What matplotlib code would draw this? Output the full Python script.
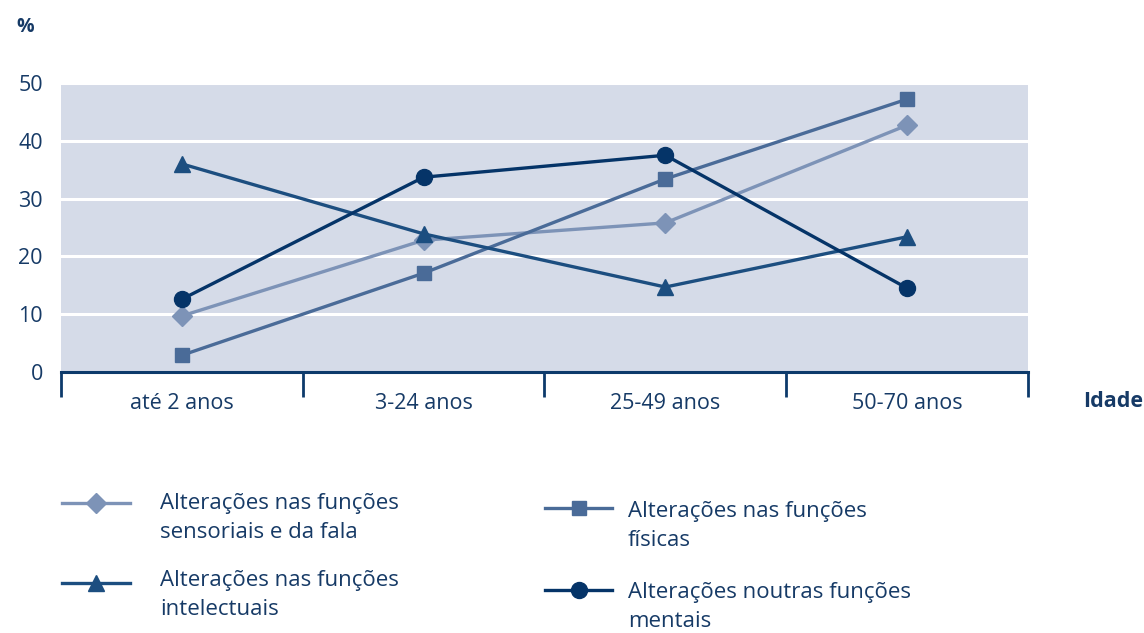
import matplotlib.pyplot as plt
from matplotlib.lines import Line2D
from matplotlib.ticker import FixedLocator

plt.rcParams['font.family'] = ['Open Sans', 'DejaVu Sans']

# ===== categorias (idade) =====
idades = ["até 2 anos", "3-24 anos", "25-49 anos", "50-70 anos"]

# ===== séries (%) =====
sensoriais = [9.7, 22.8, 25.8, 42.7]
fisicas = [2.9, 17.1, 33.4, 47.2]
intelectuais = [36.0, 23.9, 14.7, 23.4]
mentais = [12.6, 33.7, 37.5, 14.5]

labels = ["Alterações nas funções\nsensoriais e da fala",
          "Alterações nas funções\nintelectuais",
          "Alterações nas funções\nfísicas",
          "Alterações noutras funções\nmentais"]

txt = '#163a66'
navy = '#0d3a6b'

fig = plt.figure(figsize=(11.44, 6.33), dpi=100)
ax = fig.add_axes([0.0533, 0.4123, 0.8453, 0.4566])
ax.set_facecolor('#d5dbe8')

x = list(range(len(idades)))
l1, = ax.plot(x, sensoriais, color='#7d93b7', lw=2.4, marker='D', ms=10, zorder=3)
l3, = ax.plot(x, fisicas, color='#4a6b98', lw=2.4, marker='s', ms=10.5, zorder=3)
l2, = ax.plot(x, intelectuais, color='#1c4e80', lw=2.4, marker='^', ms=12, zorder=3)
l4, = ax.plot(x, mentais, color='#053468', lw=2.4, marker='o', ms=11.5, zorder=4)

ax.set_xlim(-0.5, 3.5)
ax.set_ylim(0, 50)
ax.set_yticks([0, 10, 20, 30, 40, 50])
ax.yaxis.grid(True, color='white', lw=2.2)
ax.set_axisbelow(True)

ax.set_xticks(x)
ax.set_xticklabels(idades)
ax.xaxis.set_minor_locator(FixedLocator([-0.5, 0.5, 1.5, 2.5, 3.5]))
ax.tick_params(axis='x', which='major', length=0, pad=15, labelsize=15.5, labelcolor=txt)
ax.tick_params(axis='x', which='minor', length=18, width=2, color=navy, direction='out')
ax.tick_params(axis='y', length=0, pad=13, labelsize=15.5, labelcolor=txt)

for s in ['top', 'right', 'left']:
    ax.spines[s].set_visible(False)
ax.spines['bottom'].set_color(navy)
ax.spines['bottom'].set_linewidth(2.2)

fig.text(0.022, 0.958, "%", fontsize=14, fontweight='bold', color=txt, ha='center', va='center')
fig.text(0.999, 0.366, "Idade", fontsize=15.5, fontweight='bold', color=txt, ha='right', va='center')

# ===== legenda (posições em píxeis da figura) =====
W, H = 1144, 633
entradas = [
    (l1, labels[0], 62, 130, 503, 160, 518),
    (l2, labels[1], 62, 130, 583, 160, 595),
    (l3, labels[2], 545, 612, 508, 628, 526),
    (l4, labels[3], 545, 612, 590, 628, 607),
]
for ln, lab, xa, xb, yl, xt, yt in entradas:
    fig.add_artist(Line2D([xa / W, xb / W], [1 - yl / H, 1 - yl / H],
                          color=ln.get_color(), lw=ln.get_linewidth()))
    fig.add_artist(Line2D([(xa + xb) / 2 / W], [1 - yl / H], color=ln.get_color(),
                          marker=ln.get_marker(), ms=ln.get_markersize(), lw=0))
    fig.text(xt / W, 1 - yt / H, lab, fontsize=16, color=txt, ha='left',
             va='center', linespacing=1.5)

fig.savefig('out.png', dpi=100)
